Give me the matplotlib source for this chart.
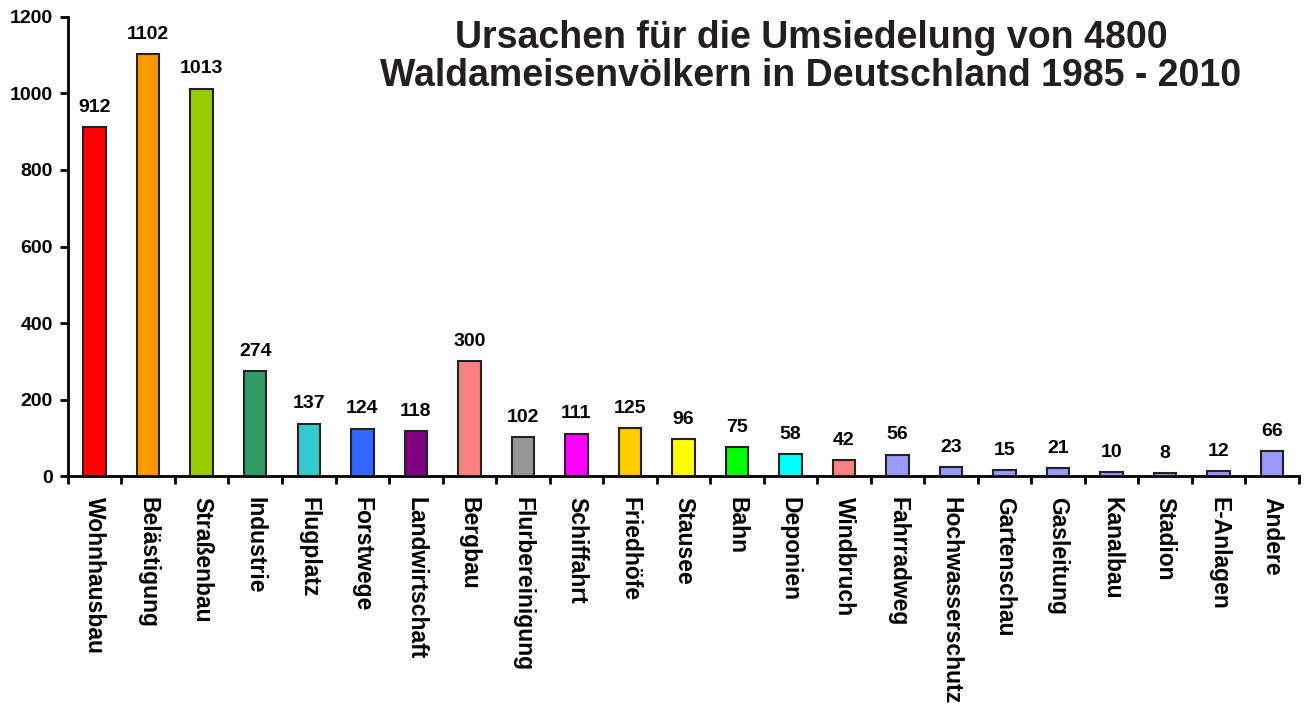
import matplotlib.pyplot as plt
import numpy as np

plt.rcParams["font.family"] = ["Liberation Sans", "DejaVu Sans"]
plt.rcParams["font.weight"] = "bold"

# Daten
ursachen = [
    "Wohnhausbau", "Belästigung", "Straßenbau", "Industrie", "Flugplatz",
    "Forstwege", "Landwirtschaft", "Bergbau", "Flurbereinigung", "Schiffahrt",
    "Friedhöfe", "Stausee", "Bahn", "Deponien", "Windbruch", "Fahrradweg",
    "Hochwasserschutz", "Gartenschau", "Gasleitung", "Kanalbau", "Stadion",
    "E-Anlagen", "Andere",
]
anzahl = [912, 1102, 1013, 274, 137, 124, 118, 300, 102, 111, 125, 96, 75,
          58, 42, 56, 23, 15, 21, 10, 8, 12, 66]
farben = [
    "#FF0000", "#FF9900", "#99CC00", "#339966", "#33CCCC", "#3366FF",
    "#800080", "#FF8080", "#969696", "#FF00FF", "#FFCC00", "#FFFF00",
    "#00FF00", "#00FFFF", "#FF8080", "#9999FF", "#9999FF", "#9999FF",
    "#9999FF", "#9999FF", "#9999FF", "#9999FF", "#9999FF",
]

fig = plt.figure(figsize=(13.06, 7.05), dpi=100)
ax = fig.add_axes([0.052, 0.3248, 0.9426, 0.6511])

x = np.arange(len(ursachen))
ax.bar(x, anzahl, width=0.42, color=farben, edgecolor="#222222", linewidth=1.5, zorder=3)

for xi, v in zip(x, anzahl):
    ax.annotate(str(v), (xi, v), xytext=(0, 8), textcoords="offset points",
                ha="center", va="bottom", fontsize=14, fontweight="bold")

ax.set_xlim(-0.5, len(ursachen) - 0.5)
ax.set_ylim(0, 1200)
ax.set_yticks(np.arange(0, 1201, 200))
ax.set_xticks(x)
ax.set_xticklabels(ursachen, rotation=-90, ha="center", va="top", fontsize=16.5, fontweight="bold")
ax.set_xticks(np.arange(-0.5, len(ursachen)), minor=True)
ax.tick_params(axis="x", which="major", length=0, pad=15)
ax.tick_params(axis="x", which="minor", length=6, width=2)
ax.tick_params(axis="y", length=6, width=2, labelsize=14, pad=5)
for lbl in ax.get_yticklabels():
    lbl.set_fontweight("bold")

for s in ["top", "right"]:
    ax.spines[s].set_visible(False)
for s in ["left", "bottom"]:
    ax.spines[s].set_linewidth(2)

fig.text(0.621, 0.972, "Ursachen für die Umsiedelung von 4800\nWaldameisenvölkern in Deutschland 1985 - 2010",
         ha="center", va="top", fontsize=27, fontweight="bold", color="#231F20", linespacing=1.08)

fig.savefig("out.png", dpi=100)
